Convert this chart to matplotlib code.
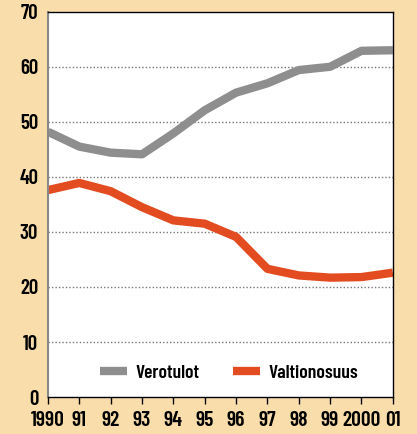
import matplotlib
matplotlib.use("Agg")
import matplotlib.pyplot as plt

years = list(range(1990, 2002))
year_labels = ["1990", "91", "92", "93", "94", "95", "96", "97", "98", "99", "2000", "01"]
verotulot = [48.2, 45.5, 44.4, 44.1, 47.9, 52.1, 55.3, 57.0, 59.4, 60.0, 62.9, 63.0]
valtionosuus = [37.6, 38.9, 37.4, 34.5, 32.1, 31.5, 29.1, 23.3, 22.1, 21.7, 21.8, 22.6]
y_ticks = [0, 10, 20, 30, 40, 50, 60, 70]

bg = "#F9DEAB"
grey = "#8E8E8E"
orange = "#E34B20"
font = ["Barlow Condensed", "DejaVu Sans"]

fig = plt.figure(figsize=(4.17, 4.34), dpi=100, facecolor=bg)
ax = fig.add_axes([0.115, 0.085, 0.827, 0.888])

ax.plot(years, verotulot, color=grey, lw=6, solid_capstyle="butt", label="Verotulot")
ax.plot(years, valtionosuus, color=orange, lw=6, solid_capstyle="butt", label="Valtionosuus")

ax.set_xlim(1990, 2001)
ax.set_ylim(0, 70)
ax.set_yticks(y_ticks)
ax.set_yticklabels([str(v) for v in y_ticks], family=font, fontsize=15, fontweight="semibold")
ax.set_xticks(years)
ax.set_xticklabels(year_labels, family=font, fontsize=15.5, fontweight="semibold")
ax.tick_params(axis="y", length=0, pad=7)
ax.tick_params(axis="x", length=5, width=1, pad=5)

for v in y_ticks[1:-1]:
    ax.axhline(v, color="#777777", lw=1, ls=(0, (1, 1.5)), zorder=0)

for s in ["top", "right", "bottom"]:
    ax.spines[s].set_color("black")
    ax.spines[s].set_linewidth(1)
ax.spines["left"].set_color("#888888")
ax.spines["left"].set_linewidth(1.5)

leg = ax.legend(loc="lower center", bbox_to_anchor=(0.525, -0.005), ncol=2, frameon=False,
                handlelength=1.4, handletextpad=0.45, columnspacing=1.7,
                prop={"family": font, "size": 14, "weight": "semibold"})
for line in leg.get_lines():
    line.set_linewidth(6)

fig.savefig("out.png", dpi=100, facecolor=bg)
